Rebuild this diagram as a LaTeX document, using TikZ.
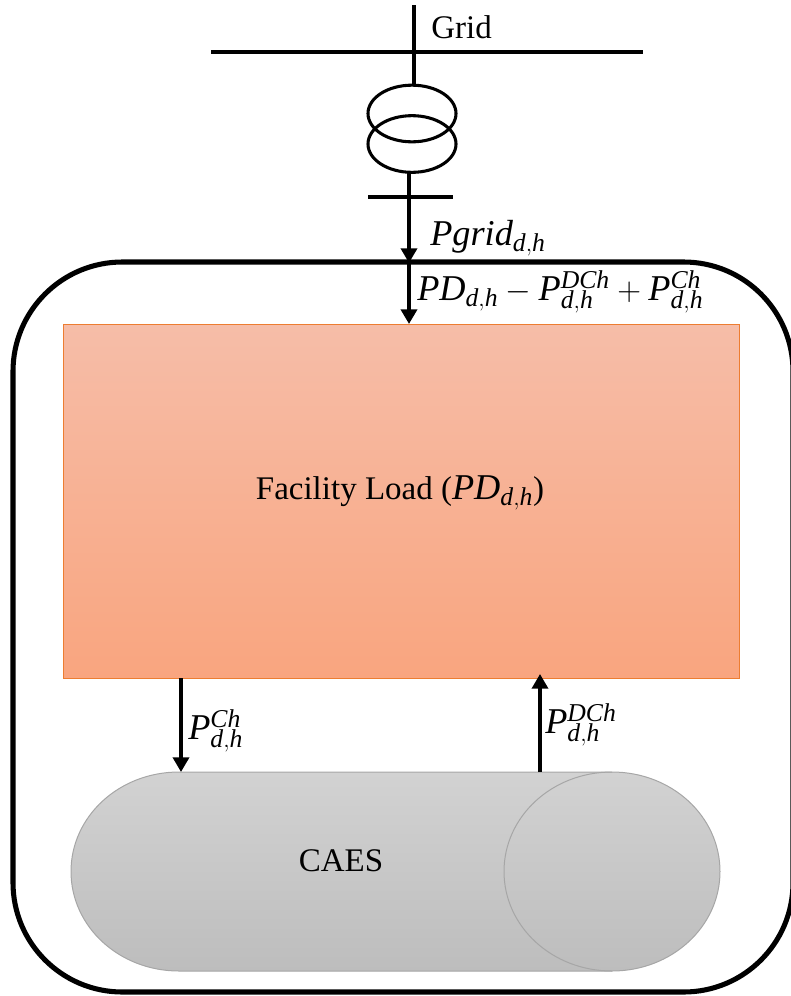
\documentclass[tikz,border=0pt]{standalone}
\usepackage{fix-cm}
\usepackage{mathspec}
\setmainfont{Liberation Serif}
\setmathsfont(Latin)[Scale=1.1]{Liberation Serif}
\DeclareMathSizes{24.75}{24.75}{17.5}{13}
\usetikzlibrary{arrows.meta,shapes.geometric}
\definecolor{loadtop}{HTML}{F6BDA8}
\definecolor{loadbot}{HTML}{F9A57F}
\definecolor{loadline}{HTML}{ED7D31}
\definecolor{caestop}{HTML}{D2D2D2}
\definecolor{caesbot}{HTML}{BDBDBD}
\definecolor{caesline}{HTML}{A6A6A6}
\tikzset{
  busline/.style={line width=2.3pt},
  flow/.style={line width=2.6pt,-{Triangle[length=11pt,width=12pt]}},
  winding/.style={ellipse,draw,line width=2.3pt,minimum width=66pt,minimum height=42.5pt,inner sep=0pt},
  label/.style={font=\fontsize{24.75}{30}\selectfont,inner sep=0pt,anchor=west},
  tank/.style={draw=caesline,line width=0.75pt}
}
\begin{document}
\begin{tikzpicture}[x=0.75pt,y=-0.75pt]
\useasboundingbox (0,0) rectangle (791,996);

% Facility boundary
\draw[line width=3.8pt,rounded corners=82pt] (13,262) rectangle (793,992);

% Facility load
\node[draw=loadline,line width=0.75pt,top color=loadtop,bottom color=loadbot,minimum width=507pt,minimum height=265.5pt,inner sep=0pt,outer sep=0pt] (load) at (401,501) {};
\node[label,anchor=center] (loadtext) at (400,493) {Facility Load ($PD_{d,h}$)};

% CAES tank
\shade[tank,top color=caestop,bottom color=caesbot] (179,772) -- (612,772)
  .. controls (672,772) and (720,816.5) .. (720,871.5)
  .. controls (720,926.5) and (672,971) .. (612,971) -- (179,971)
  .. controls (119,971) and (71,926.5) .. (71,871.5)
  .. controls (71,816.5) and (119,772) .. (179,772) -- cycle;
\draw[tank] (612,772) .. controls (552,772) and (504,816.5) .. (504,871.5)
  .. controls (504,926.5) and (552,971) .. (612,971);
\node[label,anchor=center] (caestext) at (341,861) {CAES};

% Grid bus and transformer
\coordinate (gridtop) at (414,5);
\coordinate (busleft) at (211,52);
\coordinate (busright) at (643,52);
\coordinate (lvleft) at (368,197);
\coordinate (lvright) at (453,197);
\node[winding] (windup) at (412,113.5) {};
\node[winding] (winddown) at (412,144) {};
\draw[busline] (busleft) -- (busright);
\draw[busline] (gridtop) -- (gridtop |- windup.north);
\draw[busline] (lvleft) -- (lvright);
\node[label] (gridtext) at (431,27) {Grid};

% Power flows
\coordinate (inflow) at (409,173);
\coordinate (boundary) at (409,263);
\coordinate (chtop) at (181,678);
\coordinate (chbot) at (181,772);
\coordinate (dchtop) at (540,674);
\coordinate (dchbot) at (540,772);
\draw[flow] (inflow) -- (boundary);
\draw[flow,line width=3.2pt] (boundary) -- (boundary |- load.north);
\draw[flow] (chtop) -- (chbot);
\draw[flow] (dchbot) -- (dchtop);

% Flow labels
\node[label] (gridflow) at (430,238) {$Pgrid_{d,h}$};
\node[label] (loadflow) at (417,292) {$PD_{d,h}-P_{d,h}^{DCh}+P_{d,h}^{Ch}$};
\node[label] (chflow) at (188,731) {$P_{d,h}^{Ch}$};
\node[label] (dchflow) at (545,725) {$P_{d,h}^{DCh}$};
\end{tikzpicture}
\end{document}
